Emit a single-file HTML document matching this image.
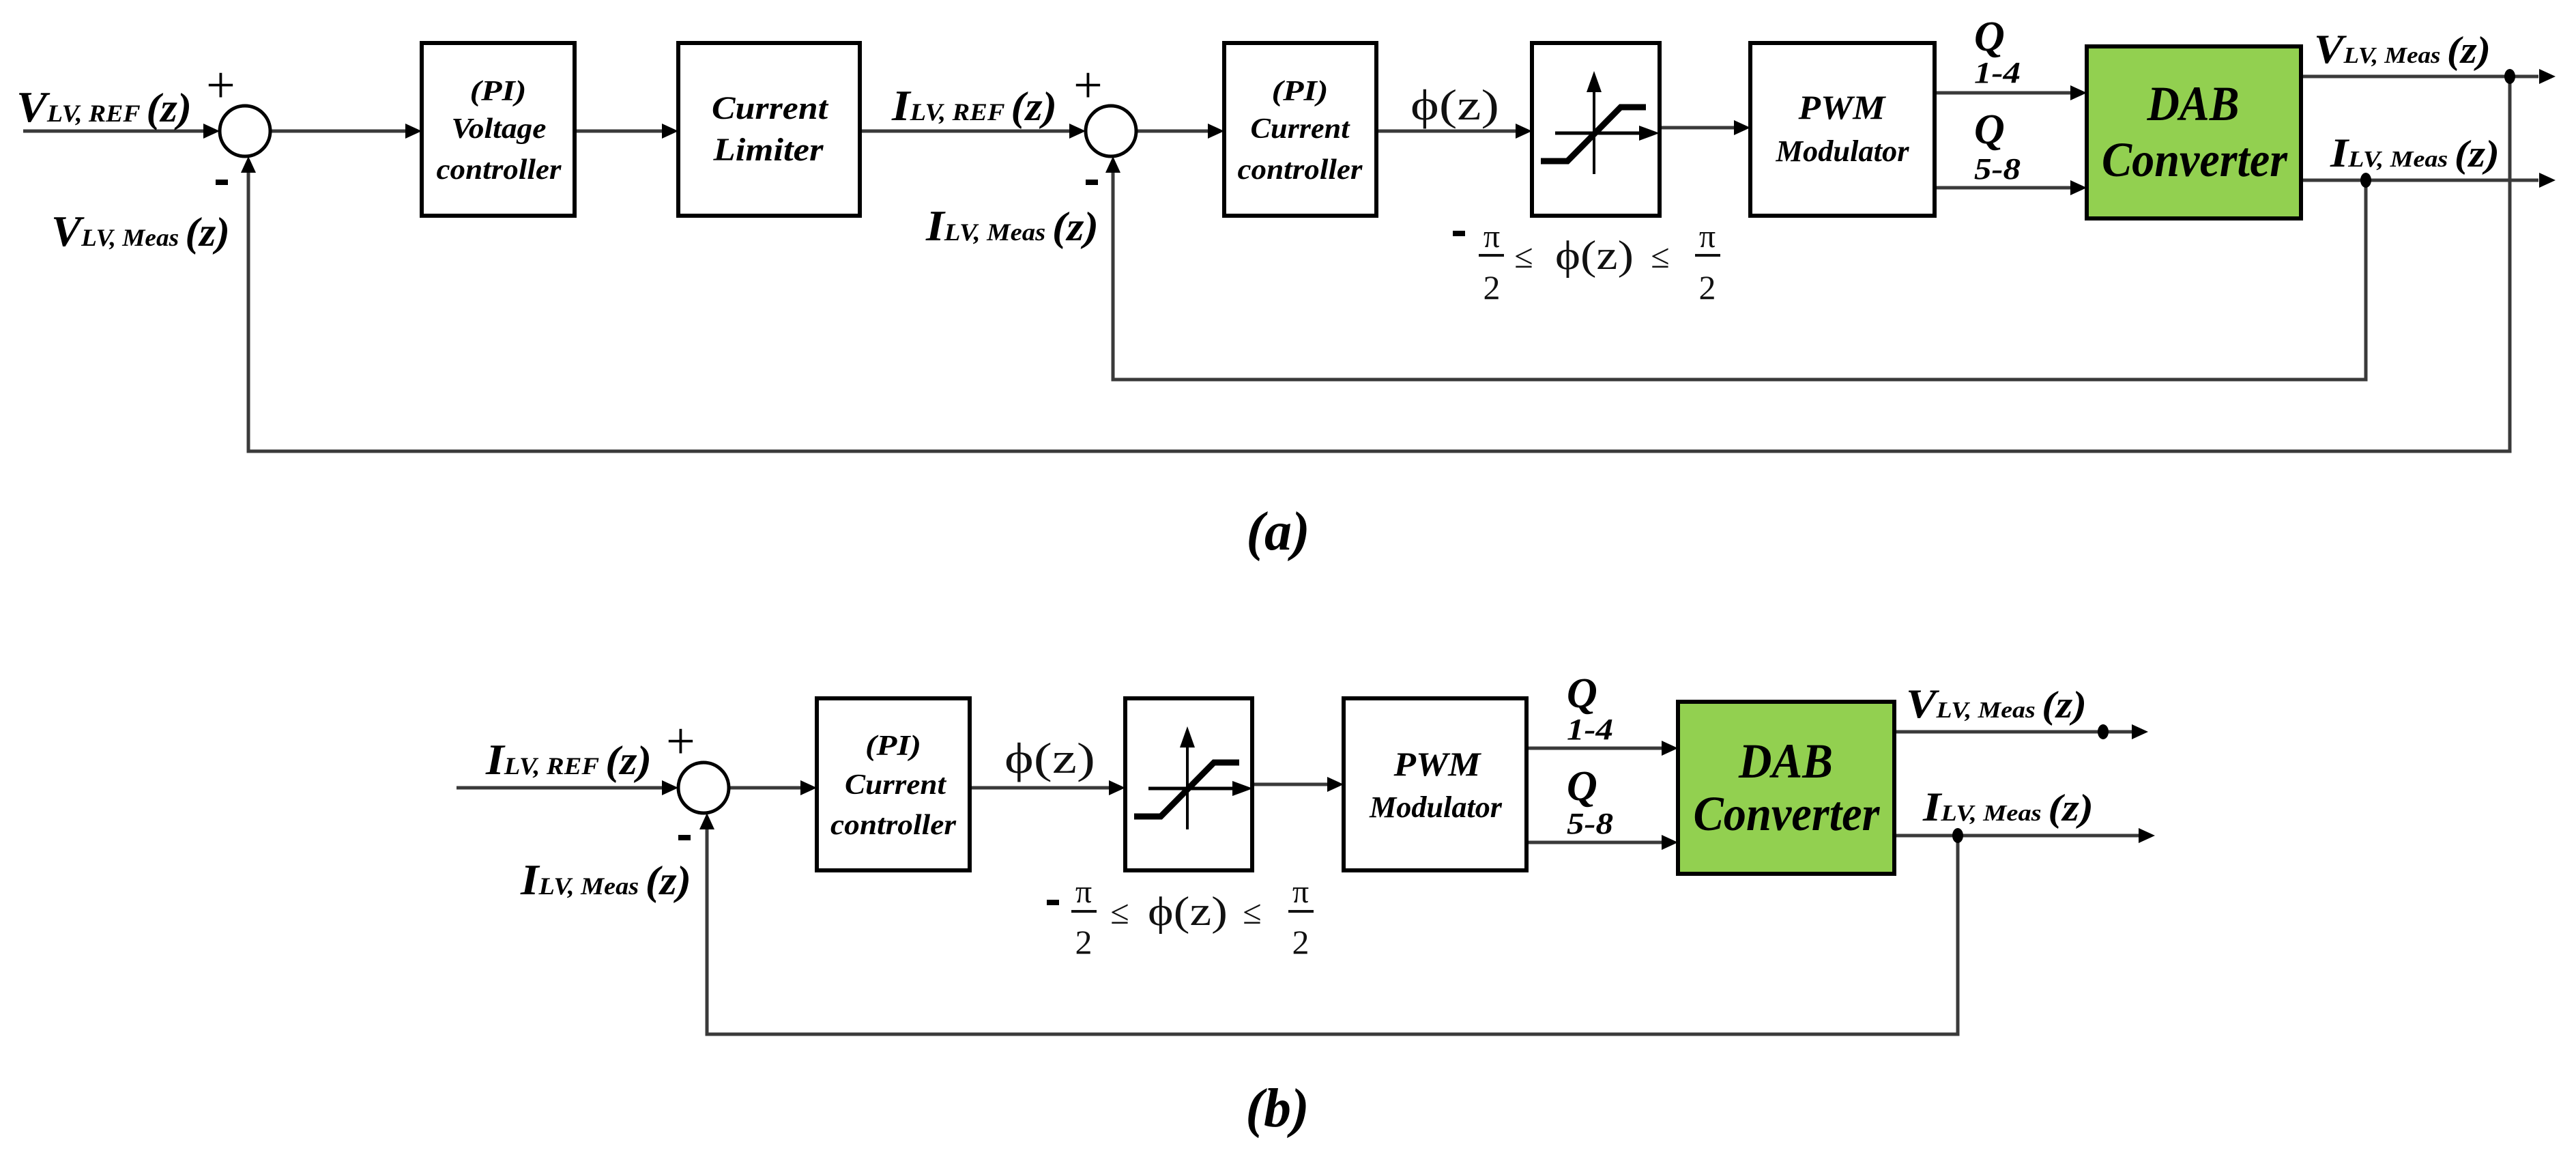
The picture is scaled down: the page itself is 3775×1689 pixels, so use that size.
<!DOCTYPE html>
<html><head><meta charset="utf-8"><style>
html,body{margin:0;padding:0;background:#fff;}
svg{display:block;}
text{font-family:"Liberation Serif",serif;}
.b{font-weight:bold;font-style:italic;}
.m{font-family:"Liberation Serif",serif;}
</style></head><body>
<svg width="3775" height="1689" viewBox="0 0 3775 1689" xmlns="http://www.w3.org/2000/svg">
<g stroke="#3a3a3a" stroke-width="5" fill="none">
<line x1="34" y1="192" x2="300" y2="192"/>
<line x1="396" y1="192" x2="598" y2="192"/>
<line x1="842" y1="192" x2="974" y2="192"/>
<line x1="1260" y1="192" x2="1570" y2="192"/>
<line x1="1665" y1="192" x2="1774" y2="192"/>
<line x1="2017" y1="192" x2="2225" y2="192"/>
<line x1="2432" y1="187" x2="2545" y2="187"/>
<line x1="2835" y1="136" x2="3038" y2="136"/>
<line x1="2835" y1="275" x2="3038" y2="275"/>
<line x1="3372" y1="112" x2="3720" y2="112"/>
<line x1="3372" y1="264" x2="3720" y2="264"/>
<polyline points="1631,250 1631,556 3467,556 3467,264"/>
<polyline points="364,250 364,661 3678,661 3678,112"/>
<line x1="669" y1="1154" x2="974" y2="1154"/>
<line x1="1068" y1="1154" x2="1177" y2="1154"/>
<line x1="1421" y1="1154" x2="1629" y2="1154"/>
<line x1="1835" y1="1149" x2="1949" y2="1149"/>
<line x1="2237" y1="1096" x2="2439" y2="1096"/>
<line x1="2237" y1="1234" x2="2439" y2="1234"/>
<line x1="2776" y1="1072" x2="3125" y2="1072"/>
<line x1="2776" y1="1224" x2="3135" y2="1224"/>
<polyline points="1036,1212 1036,1515 2869,1515 2869,1224"/>
</g>
<g fill="#000">
<polygon points="322,192 298,181 298,203"/>
<polygon points="618,192 594,181 594,203"/>
<polygon points="994,192 970,181 970,203"/>
<polygon points="1591,192 1567,181 1567,203"/>
<polygon points="1794,192 1770,181 1770,203"/>
<polygon points="2245,192 2221,181 2221,203"/>
<polygon points="2565,187 2541,176 2541,198"/>
<polygon points="3058,136 3034,125 3034,147"/>
<polygon points="3058,275 3034,264 3034,286"/>
<polygon points="3745,112 3721,101 3721,123"/>
<polygon points="3745,264 3721,253 3721,275"/>
<polygon points="364,229 353,253 375,253"/>
<polygon points="1631,229 1620,253 1642,253"/>
<ellipse cx="3678" cy="112" rx="8" ry="11"/>
<ellipse cx="3467" cy="264" rx="8" ry="11"/>
<polygon points="994,1154 970,1143 970,1165"/>
<polygon points="1197,1154 1173,1143 1173,1165"/>
<polygon points="1649,1154 1625,1143 1625,1165"/>
<polygon points="1969,1149 1945,1138 1945,1160"/>
<polygon points="2459,1096 2435,1085 2435,1107"/>
<polygon points="2459,1234 2435,1223 2435,1245"/>
<polygon points="3148,1072 3124,1061 3124,1083"/>
<polygon points="3158,1224 3134,1213 3134,1235"/>
<polygon points="1036,1191 1025,1215 1047,1215"/>
<ellipse cx="3082" cy="1072" rx="8" ry="11"/>
<ellipse cx="2869" cy="1224" rx="8" ry="11"/>
</g>
<g stroke="#000" stroke-width="5" fill="#fff">
<circle cx="359" cy="192" r="37"/>
<circle cx="1628" cy="192" r="37"/>
<circle cx="1031" cy="1154" r="37"/>
</g>
<g stroke="#000" stroke-width="6" fill="#fff">
<rect x="618" y="63" width="224" height="253"/>
<rect x="994" y="63" width="266" height="253"/>
<rect x="1794" y="63" width="223" height="253"/>
<rect x="2245" y="63" width="187" height="253"/>
<rect x="2565" y="63" width="270" height="253"/>
<rect x="3058" y="68" width="314" height="252" fill="#92d050"/>
<rect x="1197" y="1023" width="224" height="252"/>
<rect x="1649" y="1023" width="186" height="252"/>
<rect x="1969" y="1023" width="268" height="252"/>
<rect x="2459" y="1028" width="317" height="252" fill="#92d050"/>
</g>
<g stroke="#000" fill="none">
<g transform="translate(2338,63)">
<line x1="-2" y1="62" x2="-2" y2="192" stroke-width="4"/>
<line x1="-59" y1="132" x2="66" y2="132" stroke-width="5"/>
<polyline points="-80,173 -41,173 37,94 74,94" stroke-width="9"/>
</g>
<g transform="translate(1742,1023)">
<line x1="-2" y1="62" x2="-2" y2="192" stroke-width="4"/>
<line x1="-59" y1="132" x2="66" y2="132" stroke-width="5"/>
<polyline points="-80,173 -41,173 37,94 74,94" stroke-width="9"/>
</g>
</g>
<g fill="#000">
<polygon points="2336,104 2325,135 2347,135"/>
<polygon points="2432,195 2402,184 2402,206"/>
<polygon points="1740,1064 1729,1095 1751,1095"/>
<polygon points="1836,1155 1806,1144 1806,1166"/>
</g>

<g class="b" text-anchor="middle" fill="#000">
<text x="730" y="147" font-size="42" textLength="83" lengthAdjust="spacingAndGlyphs">(PI)</text>
<text x="731" y="202" font-size="42" textLength="139" lengthAdjust="spacingAndGlyphs">Voltage</text>
<text x="731" y="262" font-size="42" textLength="183" lengthAdjust="spacingAndGlyphs">controller</text>
<text x="1128" y="174" font-size="48" textLength="170" lengthAdjust="spacingAndGlyphs">Current</text>
<text x="1126" y="235" font-size="48" textLength="161" lengthAdjust="spacingAndGlyphs">Limiter</text>
<text x="1905" y="147" font-size="42" textLength="83" lengthAdjust="spacingAndGlyphs">(PI)</text>
<text x="1905" y="202" font-size="42" textLength="145" lengthAdjust="spacingAndGlyphs">Current</text>
<text x="1905" y="262" font-size="42" textLength="183" lengthAdjust="spacingAndGlyphs">controller</text>
<text x="2699" y="174" font-size="50" textLength="127" lengthAdjust="spacingAndGlyphs">PWM</text>
<text x="2700" y="236" font-size="44" textLength="195" lengthAdjust="spacingAndGlyphs">Modulator</text>
<text x="3214" y="176" font-size="72" textLength="135" lengthAdjust="spacingAndGlyphs">DAB</text>
<text x="3216" y="258" font-size="72" textLength="272" lengthAdjust="spacingAndGlyphs">Converter</text>
<text x="1309" y="1106" font-size="42" textLength="82" lengthAdjust="spacingAndGlyphs">(PI)</text>
<text x="1312" y="1163" font-size="42" textLength="148" lengthAdjust="spacingAndGlyphs">Current</text>
<text x="1309" y="1222" font-size="42" textLength="184" lengthAdjust="spacingAndGlyphs">controller</text>
<text x="2106" y="1136" font-size="50" textLength="127" lengthAdjust="spacingAndGlyphs">PWM</text>
<text x="2104" y="1197" font-size="44" textLength="194" lengthAdjust="spacingAndGlyphs">Modulator</text>
<text x="2617" y="1139" font-size="72" textLength="138" lengthAdjust="spacingAndGlyphs">DAB</text>
<text x="2618" y="1216" font-size="72" textLength="273" lengthAdjust="spacingAndGlyphs">Converter</text>
</g>

<g class="b" fill="#000">
<text x="24" y="178" textLength="257" lengthAdjust="spacingAndGlyphs"><tspan font-size="64">V</tspan><tspan font-size="36">LV, REF </tspan><tspan font-size="60">(z)</tspan></text>
<text x="75" y="360" textLength="262" lengthAdjust="spacingAndGlyphs"><tspan font-size="64">V</tspan><tspan font-size="36">LV, Meas </tspan><tspan font-size="60">(z)</tspan></text>
<text x="1307" y="176" textLength="242" lengthAdjust="spacingAndGlyphs"><tspan font-size="64">I</tspan><tspan font-size="36">LV, REF </tspan><tspan font-size="60">(z)</tspan></text>
<text x="1357" y="352" textLength="253" lengthAdjust="spacingAndGlyphs"><tspan font-size="64">I</tspan><tspan font-size="36">LV, Meas </tspan><tspan font-size="60">(z)</tspan></text>
<text x="3391" y="92" textLength="259" lengthAdjust="spacingAndGlyphs"><tspan font-size="60">V</tspan><tspan font-size="34">LV, Meas </tspan><tspan font-size="56">(z)</tspan></text>
<text x="3415" y="244" textLength="248" lengthAdjust="spacingAndGlyphs"><tspan font-size="60">I</tspan><tspan font-size="34">LV, Meas </tspan><tspan font-size="56">(z)</tspan></text>
<text x="712" y="1134" textLength="243" lengthAdjust="spacingAndGlyphs"><tspan font-size="64">I</tspan><tspan font-size="36">LV, REF </tspan><tspan font-size="60">(z)</tspan></text>
<text x="763" y="1310" textLength="250" lengthAdjust="spacingAndGlyphs"><tspan font-size="64">I</tspan><tspan font-size="36">LV, Meas </tspan><tspan font-size="60">(z)</tspan></text>
<text x="2793" y="1051" textLength="265" lengthAdjust="spacingAndGlyphs"><tspan font-size="60">V</tspan><tspan font-size="34">LV, Meas </tspan><tspan font-size="56">(z)</tspan></text>
<text x="2818" y="1202" textLength="250" lengthAdjust="spacingAndGlyphs"><tspan font-size="60">I</tspan><tspan font-size="34">LV, Meas </tspan><tspan font-size="56">(z)</tspan></text>
<text x="2893" y="74" font-size="62">Q</text>
<text x="2893" y="121" font-size="44" textLength="68" lengthAdjust="spacingAndGlyphs">1-4</text>
<text x="2893" y="210" font-size="62">Q</text>
<text x="2893" y="262" font-size="44" textLength="68" lengthAdjust="spacingAndGlyphs">5-8</text>
<text x="2296" y="1036" font-size="62">Q</text>
<text x="2296" y="1083" font-size="44" textLength="68" lengthAdjust="spacingAndGlyphs">1-4</text>
<text x="2296" y="1172" font-size="62">Q</text>
<text x="2296" y="1221" font-size="44" textLength="68" lengthAdjust="spacingAndGlyphs">5-8</text>
<text x="302" y="150" font-size="76" font-style="normal" font-weight="normal">+</text>
<text x="1573" y="150" font-size="76" font-style="normal" font-weight="normal">+</text>
<text x="976" y="1111" font-size="76" font-style="normal" font-weight="normal">+</text>
<text x="1873" y="805" font-size="80" text-anchor="middle">(a)</text>
<text x="1872" y="1650" font-size="80" text-anchor="middle">(b)</text>
</g>
<g fill="#000">
<rect x="316" y="263" width="18" height="8"/>
<rect x="1591" y="263" width="18" height="8"/>
<rect x="994" y="1223" width="18" height="8"/>
</g>

<g class="m" fill="#111">
<text x="2067" y="175" font-size="64" textLength="130" lengthAdjust="spacingAndGlyphs">ϕ(z)</text>
<text x="1472" y="1132" font-size="64" textLength="133" lengthAdjust="spacingAndGlyphs">ϕ(z)</text>
</g>
<g fill="#111">
<rect x="2129" y="338" width="18" height="8" fill="#000"/>
<line x1="2167" y1="374" x2="2204" y2="374" stroke="#111" stroke-width="4"/>
<text class="m" x="2186" y="362" font-size="48" text-anchor="middle">π</text>
<text class="m" x="2186" y="438" font-size="50" text-anchor="middle">2</text>
<text class="m" x="2233" y="392" font-size="50" text-anchor="middle">≤</text>
<text class="m" x="2279" y="394" font-size="60" textLength="115" lengthAdjust="spacingAndGlyphs">ϕ(z)</text>
<text class="m" x="2433" y="392" font-size="50" text-anchor="middle">≤</text>
<line x1="2484" y1="374" x2="2521" y2="374" stroke="#111" stroke-width="4"/>
<text class="m" x="2502" y="362" font-size="48" text-anchor="middle">π</text>
<text class="m" x="2502" y="438" font-size="50" text-anchor="middle">2</text>
</g>
<g fill="#111">
<rect x="1534" y="1318" width="18" height="8" fill="#000"/>
<line x1="1570" y1="1335" x2="1607" y2="1335" stroke="#111" stroke-width="4"/>
<text class="m" x="1588" y="1322" font-size="48" text-anchor="middle">π</text>
<text class="m" x="1588" y="1397" font-size="50" text-anchor="middle">2</text>
<text class="m" x="1641" y="1353" font-size="50" text-anchor="middle">≤</text>
<text class="m" x="1682" y="1355" font-size="60" textLength="117" lengthAdjust="spacingAndGlyphs">ϕ(z)</text>
<text class="m" x="1835" y="1353" font-size="50" text-anchor="middle">≤</text>
<line x1="1888" y1="1335" x2="1925" y2="1335" stroke="#111" stroke-width="4"/>
<text class="m" x="1906" y="1322" font-size="48" text-anchor="middle">π</text>
<text class="m" x="1906" y="1397" font-size="50" text-anchor="middle">2</text>
</g>
</svg>
</body></html>
